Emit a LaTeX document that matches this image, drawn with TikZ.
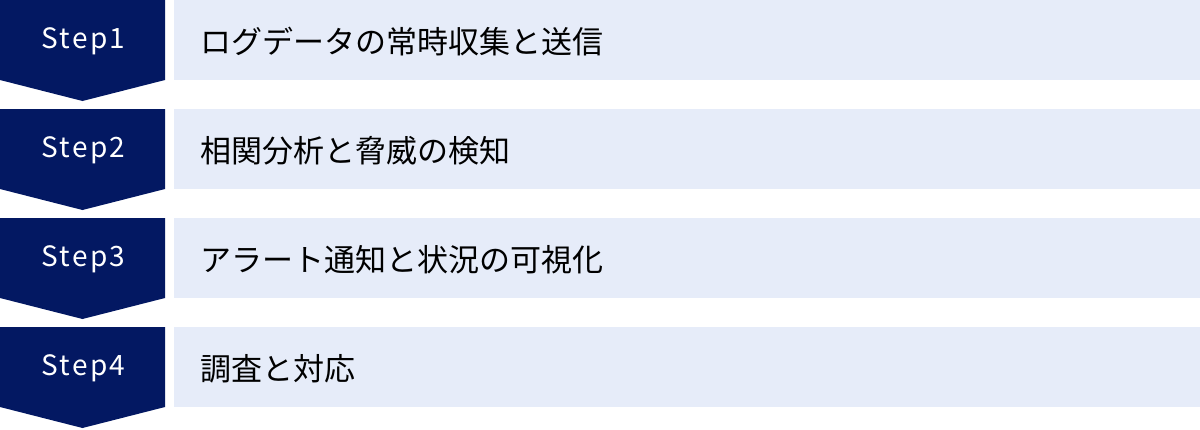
\documentclass[tikz,border=0pt]{standalone}
\usepackage{fontspec}
\usepackage{tikz}
\usetikzlibrary{calc,positioning}
\newfontfamily\jpfont{Noto Sans CJK JP}
\newfontfamily\steplatin[LetterSpace=8]{Noto Sans CJK JP}
\definecolor{stepnavy}{HTML}{031862}
\definecolor{steplight}{HTML}{E6ECF9}
\tikzset{
	steplabel/.style={anchor=center,inner sep=0.75pt,text=white,font=\steplatin\fontsize{28}{32}\selectfont},
	steptext/.style={anchor=west,inner sep=0.75pt,text=black,font=\jpfont\fontsize{31}{36}\selectfont},
}
\begin{document}
\begin{tikzpicture}[x=1pt,y=1pt,yscale=-1,xscale=1]
			\useasboundingbox (0,0) rectangle (1200,429);
			%Step1 Pfeil
			\fill[stepnavy] (0,0) -- (165,0) -- (165,80) -- (82.5,101) -- (0,80) -- cycle ;
			%Step1 Rechteck
			\fill[steplight] (174,0) rectangle (1200,80) ;
			%Step2 Pfeil
			\fill[stepnavy] (0,109) -- (165,109) -- (165,189) -- (82.5,210) -- (0,189) -- cycle ;
			%Step2 Rechteck
			\fill[steplight] (174,109) rectangle (1200,189) ;
			%Step3 Pfeil
			\fill[stepnavy] (0,218) -- (165,218) -- (165,298) -- (82.5,319) -- (0,298) -- cycle ;
			%Step3 Rechteck
			\fill[steplight] (174,218) rectangle (1200,298) ;
			%Step4 Pfeil
			\fill[stepnavy] (0,327) -- (165,327) -- (165,407) -- (82.5,428) -- (0,407) -- cycle ;
			%Step4 Rechteck
			\fill[steplight] (174,327) rectangle (1200,407) ;

			% Step1
			\node[steplabel] (step1) at (83.5,41) {Step1};
			\node[steptext] (text1) at (200,41.5) {ログデータの常時収集と送信};
			% Step2
			\node[steplabel] (step2) at (83.5,150) {Step2};
			\node[steptext] (text2) at (200,150.5) {相関分析と脅威の検知};
			% Step3
			\node[steplabel] (step3) at (83.5,259) {Step3};
			\node[steptext] (text3) at (200,259.5) {アラート通知と状況の可視化};
			% Step4
			\node[steplabel] (step4) at (83.5,368) {Step4};
			\node[steptext] (text4) at (200,368.5) {調査と対応};
		\end{tikzpicture}
\end{document}
